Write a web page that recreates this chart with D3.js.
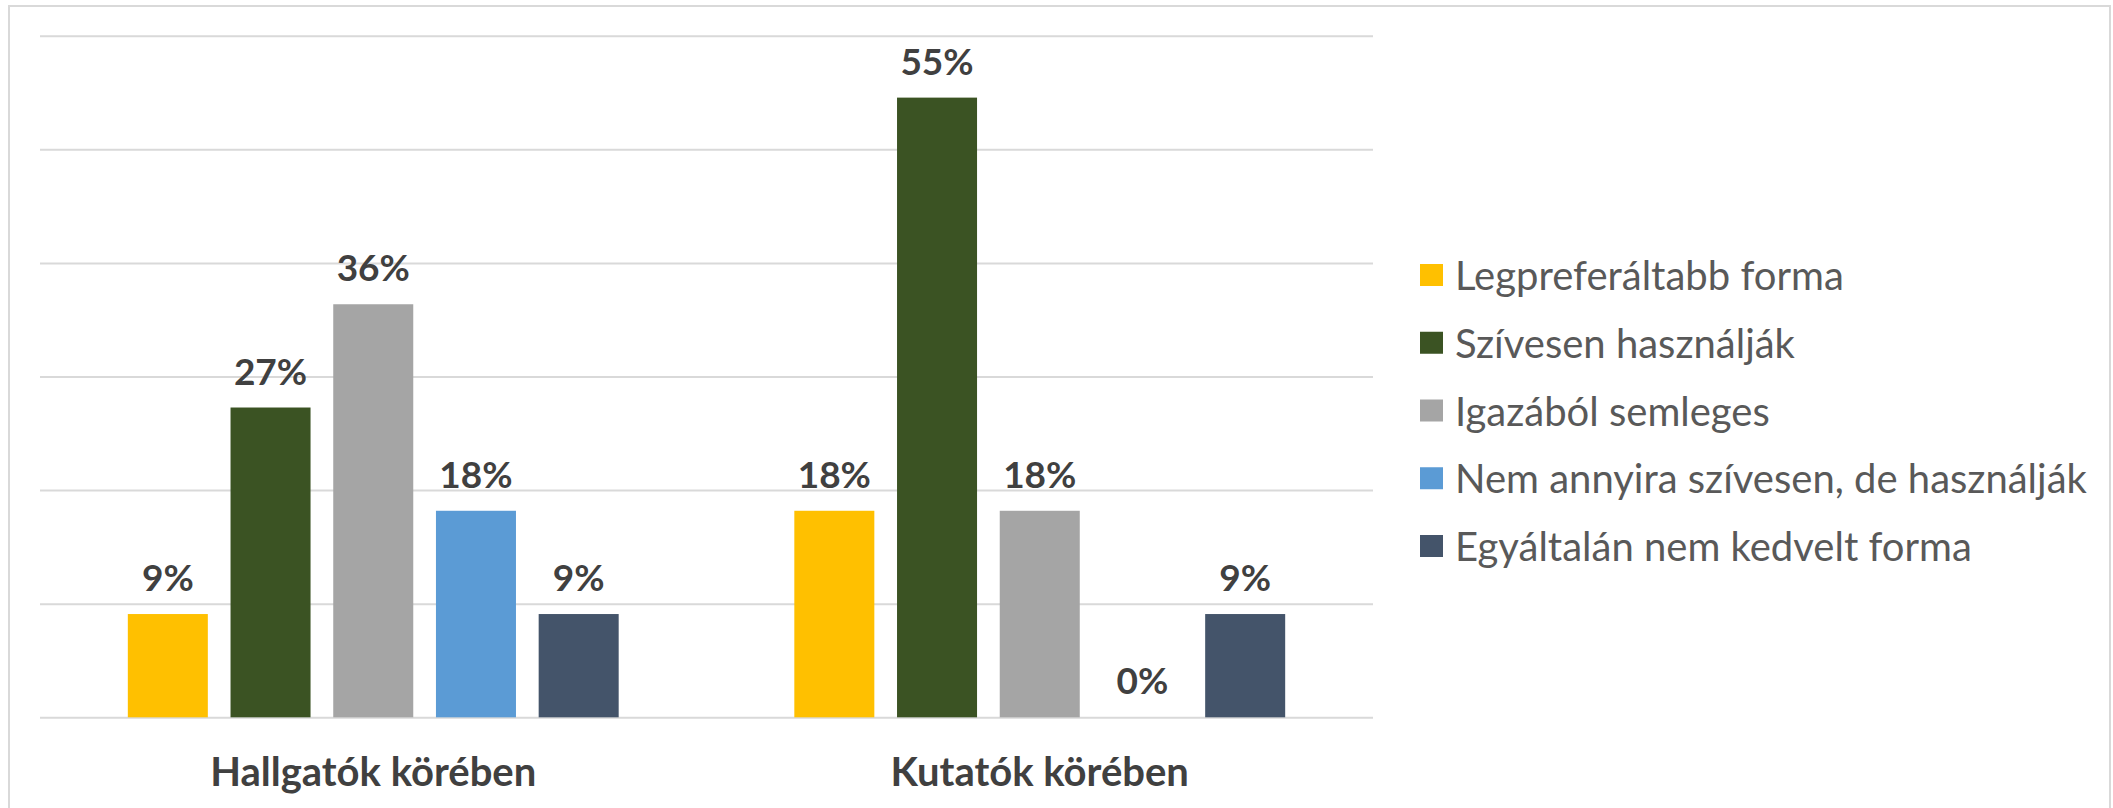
<!DOCTYPE html>
<html>
<head>
<meta charset="utf-8">
<script src="https://cdn.jsdelivr.net/npm/d3@7"></script>
<style>
  html, body { margin: 0; padding: 0; background: #ffffff; }
  svg { display: block; }
</style>
</head>
<body>
<svg id="chart" width="2113" height="808"></svg>
<script>
// ---- Data ----
const categories = ["Hallgatók körében", "Kutatók körében"];
const seriesNames = [
  "Legpreferáltabb forma",
  "Szívesen használják",
  "Igazából semleges",
  "Nem annyira szívesen, de használják",
  "Egyáltalán nem kedvelt forma"
];
const seriesColors = ["#FFC000", "#3B5323", "#A5A5A5", "#5B9BD5", "#44546A"];
// values per series, in category order (fractions)
const legpreferaltabb = [0.0909, 0.1818];
const szivesen        = [0.2727, 0.5455];
const semleges        = [0.3636, 0.1818];
const nemAnnyira      = [0.1818, 0.0];
const egyaltalanNem   = [0.0909, 0.0909];
const seriesValues = [legpreferaltabb, szivesen, semleges, nemAnnyira, egyaltalanNem];
const yTicks = [0, 0.1, 0.2, 0.3, 0.4, 0.5, 0.6];

// ---- Layout ----
const W = 2113, H = 808;
const plot = { left: 40, right: 1373, top: 35.7, bottom: 717.3 };

const svg = d3.select("#chart");

// outer border
svg.append("rect")
  .attr("x", 9).attr("y", 6)
  .attr("width", 2110 - 9).attr("height", H + 10)
  .attr("fill", "#ffffff")
  .attr("stroke", "#d9d9d9").attr("stroke-width", 2);

const x0 = d3.scaleBand().domain(categories).range([plot.left, plot.right]).padding(0);
const x1 = d3.scaleBand().domain(seriesNames).range([0, x0.bandwidth()])
  .paddingInner(0.221).paddingOuter(0.855);
const y = d3.scaleLinear().domain([0, 0.6]).range([plot.bottom, plot.top]);

// gridlines via axis
const gridAxis = d3.axisLeft(y).tickValues(yTicks).tickSize(-(plot.right - plot.left)).tickFormat("");
const gGrid = svg.append("g").attr("transform", `translate(${plot.left},0)`).call(gridAxis);
gGrid.select(".domain").remove();
gGrid.selectAll(".tick line").attr("stroke", "#d9d9d9").attr("stroke-width", 2);

// bars
const rows = [];
categories.forEach((c, ci) => {
  seriesNames.forEach((s, si) => {
    rows.push({ cat: c, ser: s, si, v: seriesValues[si][ci] });
  });
});

const gBars = svg.append("g");
gBars.selectAll("rect").data(rows).join("rect")
  .attr("x", d => x0(d.cat) + x1(d.ser))
  .attr("y", d => y(d.v))
  .attr("width", x1.bandwidth())
  .attr("height", d => y(0) - y(d.v))
  .attr("fill", d => seriesColors[d.si]);

// data labels
const fmt = d3.format(".0%");
gBars.selectAll("text").data(rows).join("text")
  .attr("x", d => x0(d.cat) + x1(d.ser) + x1.bandwidth() / 2)
  .attr("y", d => y(d.v) - 23)
  .attr("text-anchor", "middle")
  .attr("font-family", "Lato, 'Open Sans', sans-serif")
  .attr("font-weight", "bold")
  .attr("font-size", 37)
  .attr("fill", "#404040")
  .text(d => fmt(d.v));

// category axis labels
const xAxis = d3.axisBottom(x0).tickSize(0).tickPadding(0);
const gX = svg.append("g").attr("transform", `translate(0,${plot.bottom})`).call(xAxis);
gX.select(".domain").remove();
gX.selectAll(".tick text")
  .attr("y", 69)
  .attr("dy", 0)
  .attr("font-family", "Lato, 'Open Sans', sans-serif")
  .attr("font-weight", "bold")
  .attr("font-size", 40)
  .attr("fill", "#404040");

// legend
const legendY = d3.scalePoint().domain(seriesNames).range([275, 546]);
const gLeg = svg.append("g");
const li = gLeg.selectAll("g").data(seriesNames).join("g")
  .attr("transform", d => `translate(1420,${legendY(d)})`);
li.append("rect")
  .attr("x", 0).attr("y", -11).attr("width", 23).attr("height", 22)
  .attr("fill", (d, i) => seriesColors[i]);
li.append("text")
  .attr("x", 35).attr("y", 15)
  .attr("font-family", "Lato, 'Open Sans', sans-serif")
  .attr("font-size", 40)
  .attr("fill", "#595959")
  .text(d => d);
</script>
</body>
</html>
